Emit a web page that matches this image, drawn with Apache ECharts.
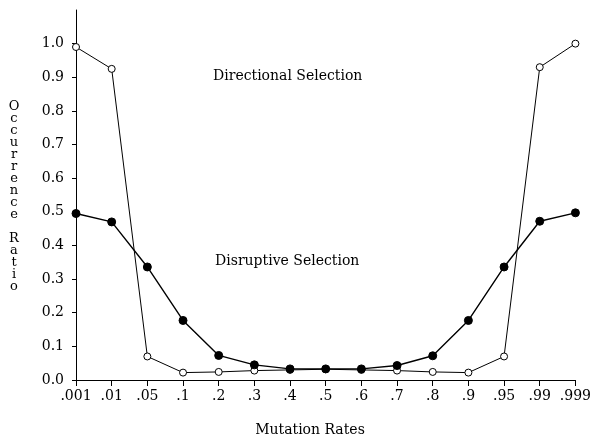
<!DOCTYPE html>
<html>
<head>
<meta charset="utf-8">
<script src="https://cdn.jsdelivr.net/npm/echarts@6/dist/echarts.min.js"></script>
<style>
  html, body { margin: 0; padding: 0; background: #fff; }
  #chart { width: 594px; height: 441px; }
</style>
</head>
<body>
<div id="chart"></div>
<script>
// mutation rate categories
const rates = [".001", ".01", ".05", ".1", ".2", ".3", ".4", ".5", ".6", ".7", ".8", ".9", ".95", ".99", ".999"];
// open circles
const directional = [0.99, 0.925, 0.07, 0.022, 0.024, 0.028, 0.03, 0.032, 0.03, 0.028, 0.024, 0.022, 0.07, 0.93, 1.0];
// filled circles
const disruptive = [0.495, 0.47, 0.336, 0.177, 0.073, 0.045, 0.033, 0.033, 0.033, 0.043, 0.072, 0.177, 0.336, 0.472, 0.497];
const yTicks = [0, 0.1, 0.2, 0.3, 0.4, 0.5, 0.6, 0.7, 0.8, 0.9, 1.0];

const font = "DejaVu Serif";
const chart = echarts.init(document.getElementById("chart"));

chart.setOption({
  backgroundColor: "#fff",
  animation: false,
  grid: { left: 76, right: 17, top: 10, bottom: 61 },
  xAxis: {
    type: "category",
    data: rates,
    boundaryGap: false,
    axisLine: { lineStyle: { color: "#000", width: 1 } },
    axisTick: { show: true, length: 6, interval: 0, lineStyle: { color: "#000" } },
    axisLabel: { color: "#000", fontFamily: font, fontSize: 14, margin: 9, interval: 0 },
    splitLine: { show: false },
  },
  yAxis: {
    type: "value",
    min: 0,
    max: 1.1,
    interval: 0.1,
    axisLine: { show: true, lineStyle: { color: "#000", width: 1 } },
    axisTick: { show: true, length: 4, customValues: yTicks, lineStyle: { color: "#000" } },
    axisLabel: {
      color: "#000",
      fontFamily: font,
      fontSize: 14,
      margin: 12,
      customValues: yTicks,
      formatter: (v) => v.toFixed(1),
    },
    splitLine: { show: false },
  },
  series: [
    {
      name: "Directional Selection",
      type: "line",
      data: directional,
      symbol: "circle",
      symbolSize: 7,
      itemStyle: { color: "#fff", borderColor: "#000", borderWidth: 1 },
      lineStyle: { color: "#000", width: 1 },
      z: 2,
    },
    {
      name: "Disruptive Selection",
      type: "line",
      data: disruptive,
      symbol: "circle",
      symbolSize: 8,
      itemStyle: { color: "#000", borderColor: "#000" },
      lineStyle: { color: "#000", width: 1.4 },
      z: 3,
    },
  ],
  graphic: [
    {
      type: "text",
      left: 213,
      top: 69,
      style: { text: "Directional Selection", fill: "#000", font: "14px " + font },
    },
    {
      type: "text",
      left: 215,
      top: 254,
      style: { text: "Disruptive Selection", fill: "#000", font: "14px " + font },
    },
    {
      type: "text",
      x: 310,
      y: 430,
      style: {
        text: "Mutation Rates",
        fill: "#000",
        font: "14px " + font,
        align: "center",
        verticalAlign: "middle",
      },
    },
    {
      type: "text",
      x: 14,
      y: 197,
      style: {
        text: "Occurrence Ratio".split("").join("\n"),
        fill: "#000",
        font: "13px " + font,
        lineHeight: 12,
        align: "center",
        verticalAlign: "middle",
      },
    },
  ],
});
</script>
</body>
</html>
